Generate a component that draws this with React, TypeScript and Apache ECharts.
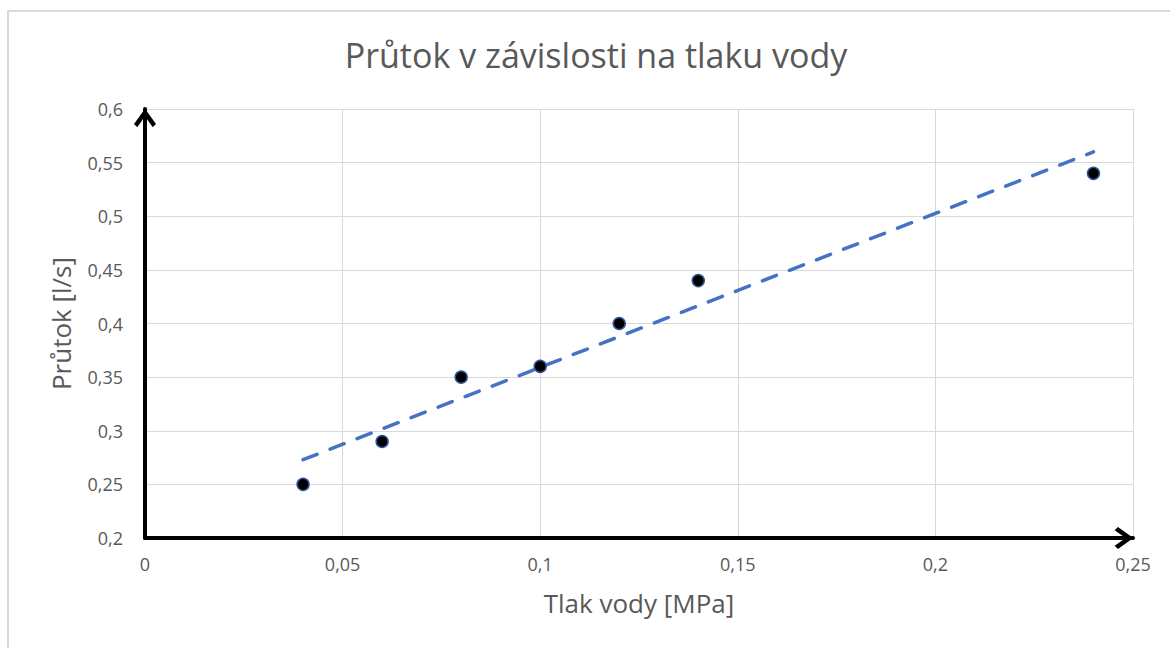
import React, { useEffect, useRef } from "react";
import * as echarts from "echarts";

const titleText = "Průtok v závislosti na tlaku vody";
const xAxisName = "Tlak vody [MPa]";
const yAxisName = "Průtok [l/s]";

const pressure = [0.04, 0.06, 0.08, 0.1, 0.12, 0.14, 0.24];
const flow = [0.25, 0.29, 0.35, 0.36, 0.4, 0.44, 0.54];

const trendX = [0.04, 0.24];
const trendY = [0.273, 0.56];

const xMin = 0, xMax = 0.25, xStep = 0.05;
const yMin = 0.2, yMax = 0.6, yStep = 0.05;

const FONT = "'Open Sans', 'Noto Sans', sans-serif";
const fmt = (v: number) => String(Number(v.toFixed(3))).replace(".", ",");
const chevron = "path://M10,0 L20,14 L17,17 L10,7 L3,17 L0,14 Z";

export default function App() {
  const ref = useRef<HTMLDivElement>(null);
  useEffect(() => {
    document.body.style.margin = "0";
    const chart = echarts.init(ref.current!, null, { renderer: "svg" });
    const axisLine = {
      show: true,
      onZero: false,
      symbol: ["none", chevron],
      symbolSize: [22, 19],
      symbolOffset: [0, -9],
      lineStyle: { color: "#000", width: 4 },
    };
    chart.setOption({
      animation: false,
      backgroundColor: "#fff",
      title: {
        text: titleText,
        left: 591,
        top: 33,
        textAlign: "center",
        textStyle: { fontFamily: FONT, fontSize: 34, fontWeight: "normal", color: "#595959" },
      },
      graphic: [
        {
          type: "rect",
          shape: { x: 8, y: 11, width: 1200, height: 700 },
          style: { fill: "none", stroke: "#d9d9d9", lineWidth: 2 },
          silent: true,
        },
      ],
      grid: { left: 145, right: 37, top: 109, bottom: 110 },
      xAxis: {
        type: "value",
        min: xMin,
        max: xMax,
        interval: xStep,
        name: xAxisName,
        nameLocation: "middle",
        nameGap: 52,
        nameTextStyle: { fontFamily: FONT, fontSize: 26, color: "#595959" },
        axisLine,
        axisTick: { show: false },
        axisLabel: { formatter: fmt, margin: 17, fontFamily: FONT, fontSize: 18, color: "#595959" },
        splitLine: { show: true, lineStyle: { color: "#d9d9d9", width: 1 } },
      },
      yAxis: {
        type: "value",
        min: yMin,
        max: yMax,
        interval: yStep,
        name: yAxisName,
        nameLocation: "middle",
        nameGap: 71,
        nameTextStyle: { fontFamily: FONT, fontSize: 26, color: "#595959" },
        axisLine,
        axisTick: { show: false },
        axisLabel: { formatter: fmt, margin: 22, fontFamily: FONT, fontSize: 18, color: "#595959" },
        splitLine: { show: true, lineStyle: { color: "#d9d9d9", width: 1 } },
      },
      series: [
        {
          type: "line",
          data: trendX.map((x, i) => [x, trendY[i]]),
          symbol: "none",
          z: 1,
          lineStyle: { color: "#4472c4", width: 3.5, type: [15, 14], cap: "round" },
        },
        {
          type: "scatter",
          data: pressure.map((x, i) => [x, flow[i]]),
          symbolSize: 12,
          z: 3,
          itemStyle: { color: "#000", borderColor: "#2f5597", borderWidth: 1.5, opacity: 1 },
        },
      ],
    });
    return () => chart.dispose();
  }, []);
  return <div ref={ref} style={{ width: 1170, height: 648 }} />;
}
